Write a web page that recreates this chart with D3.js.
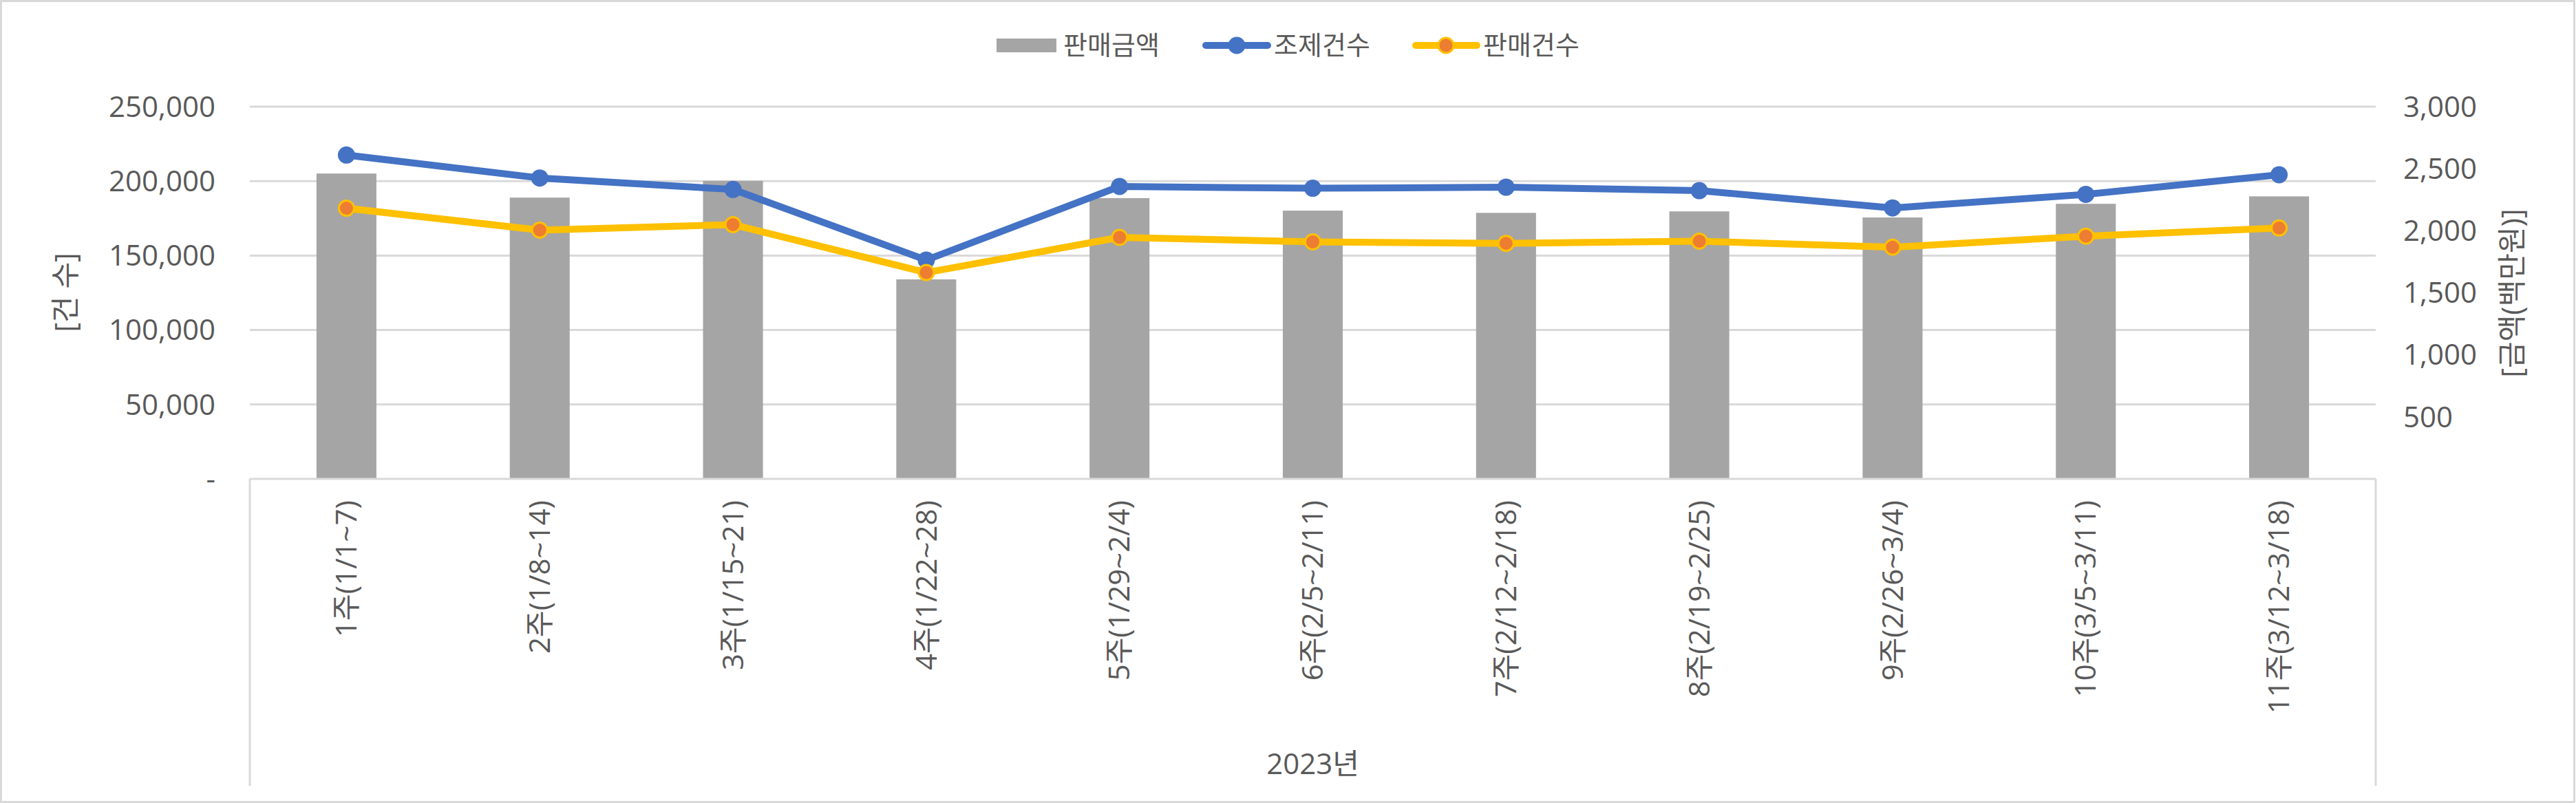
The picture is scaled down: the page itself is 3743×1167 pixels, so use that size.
<!DOCTYPE html>
<html>
<head>
<meta charset="utf-8">
<script src="https://cdn.jsdelivr.net/npm/d3@7"></script>
<style>
  html, body { margin: 0; padding: 0; background: #fff; }
  svg text { font-family: "Open Sans", "Noto Sans CJK KR", sans-serif; fill: #595959; }
</style>
</head>
<body>
<svg id="chart" width="3743" height="1167"></svg>
<script>
const categories = ["1주(1/1~7)","2주(1/8~14)","3주(1/15~21)","4주(1/22~28)","5주(1/29~2/4)","6주(2/5~2/11)","7주(2/12~2/18)","8주(2/19~2/25)","9주(2/26~3/4)","10주(3/5~3/11)","11주(3/12~3/18)"];
const salesAmount = [2461, 2267, 2402, 1608, 2263, 2162, 2144, 2156, 2107, 2217, 2277];
const dispensingCount = [217500, 202100, 194400, 147000, 196400, 195200, 195900, 193600, 182000, 191100, 204300];
const salesCount = [181800, 167100, 170800, 138600, 162200, 159200, 158200, 159700, 155600, 163000, 168500];
const leftTicks = [0, 50000, 100000, 150000, 200000, 250000];
const rightTicks = [500, 1000, 1500, 2000, 2500, 3000];
const seriesNames = ["판매금액", "조제건수", "판매건수"];
const yearLabel = "2023년";
const leftTitle = "[건 수]";
const rightTitle = "[금액(백만원)]";

const svg = d3.select("#chart");
const W = 3743, H = 1167;
const L = 363, R = 3452, T = 155, B = 696;
const gridColor = "#d9d9d9";
const fs = 42;

// outer border
svg.append("rect").attr("x", 1.5).attr("y", 1.5).attr("width", W - 4).attr("height", H - 3)
  .attr("fill", "#fff").attr("stroke", gridColor).attr("stroke-width", 3);

const x = d3.scaleBand().domain(categories).range([L, R]).paddingInner(0.69).paddingOuter(0.345);
const yL = d3.scaleLinear().domain([0, 250000]).range([B, T]);
const yR = d3.scaleLinear().domain([0, 3000]).range([B, T]);
const cx = d => x(d) + x.bandwidth() / 2;

// gridlines
svg.append("g").selectAll("line").data(leftTicks.filter(t => t > 0)).join("line")
  .attr("x1", L).attr("x2", R).attr("y1", d => yL(d)).attr("y2", d => yL(d))
  .attr("stroke", gridColor).attr("stroke-width", 3);

// left tick labels
svg.append("g").selectAll("text").data(leftTicks).join("text")
  .attr("x", 313).attr("y", d => yL(d)).attr("dy", "0.35em")
  .attr("text-anchor", "end").attr("font-size", fs)
  .text(d => d === 0 ? "-" : d3.format(",")(d));

// right tick labels
svg.append("g").selectAll("text").data(rightTicks).join("text")
  .attr("x", 3492).attr("y", d => yR(d)).attr("dy", "0.35em")
  .attr("text-anchor", "start").attr("font-size", fs)
  .text(d => d3.format(",")(d));

// bars
svg.append("g").selectAll("rect").data(categories).join("rect")
  .attr("x", d => x(d)).attr("width", x.bandwidth())
  .attr("y", (d, i) => yR(salesAmount[i])).attr("height", (d, i) => B - yR(salesAmount[i]))
  .attr("fill", "#a5a5a5");

// axis lines / category box
const ax = svg.append("g").attr("stroke", gridColor).attr("stroke-width", 3);
ax.append("line").attr("x1", L).attr("x2", R).attr("y1", B).attr("y2", B);
ax.append("line").attr("x1", L).attr("x2", L).attr("y1", B).attr("y2", 1142);
ax.append("line").attr("x1", R).attr("x2", R).attr("y1", B).attr("y2", 1142);

// lines
const line = d3.line().x((d, i) => cx(categories[i])).y(d => yL(d));
svg.append("path").datum(dispensingCount).attr("d", line)
  .attr("fill", "none").attr("stroke", "#4472c4").attr("stroke-width", 10).attr("stroke-linejoin", "round");
svg.append("g").selectAll("circle").data(dispensingCount).join("circle")
  .attr("cx", (d, i) => cx(categories[i])).attr("cy", d => yL(d)).attr("r", 12.5)
  .attr("fill", "#4472c4");

svg.append("path").datum(salesCount).attr("d", line)
  .attr("fill", "none").attr("stroke", "#ffc000").attr("stroke-width", 10).attr("stroke-linejoin", "round");
svg.append("g").selectAll("circle").data(salesCount).join("circle")
  .attr("cx", (d, i) => cx(categories[i])).attr("cy", d => yL(d)).attr("r", 11)
  .attr("fill", "#ed7d31").attr("stroke", "#ffc000").attr("stroke-width", 3);

// category labels
svg.append("g").selectAll("text").data(categories).join("text")
  .attr("transform", d => `translate(${cx(d)},727) rotate(-90)`)
  .attr("dy", "0.35em").attr("text-anchor", "end").attr("font-size", fs)
  .text(d => d);

svg.append("text").attr("x", (L + R) / 2).attr("y", 1110).attr("dy", "0.35em")
  .attr("text-anchor", "middle").attr("font-size", fs).text(yearLabel);

// axis titles
svg.append("text").attr("transform", "translate(95,425) rotate(-90)").attr("dy", "0.35em")
  .attr("text-anchor", "middle").attr("font-size", fs).text(leftTitle);
svg.append("text").attr("transform", "translate(3650,426) rotate(-90)").attr("dy", "0.35em")
  .attr("text-anchor", "middle").attr("font-size", fs).text(rightTitle);

// legend
const lg = svg.append("g");
const ly = 66;
lg.append("rect").attr("x", 1448).attr("y", ly - 10).attr("width", 87).attr("height", 20).attr("fill", "#a5a5a5");
lg.append("text").attr("x", 1545).attr("y", ly).attr("dy", "0.35em").attr("font-size", 38).text(seriesNames[0]);

lg.append("line").attr("x1", 1752).attr("x2", 1842).attr("y1", ly).attr("y2", ly)
  .attr("stroke", "#4472c4").attr("stroke-width", 10).attr("stroke-linecap", "round");
lg.append("circle").attr("cx", 1797).attr("cy", ly).attr("r", 12.5).attr("fill", "#4472c4");
lg.append("text").attr("x", 1851).attr("y", ly).attr("dy", "0.35em").attr("font-size", 38).text(seriesNames[1]);

lg.append("line").attr("x1", 2057).attr("x2", 2146).attr("y1", ly).attr("y2", ly)
  .attr("stroke", "#ffc000").attr("stroke-width", 10).attr("stroke-linecap", "round");
lg.append("circle").attr("cx", 2101).attr("cy", ly).attr("r", 11)
  .attr("fill", "#ed7d31").attr("stroke", "#ffc000").attr("stroke-width", 3);
lg.append("text").attr("x", 2155).attr("y", ly).attr("dy", "0.35em").attr("font-size", 38).text(seriesNames[2]);
</script>
</body>
</html>
